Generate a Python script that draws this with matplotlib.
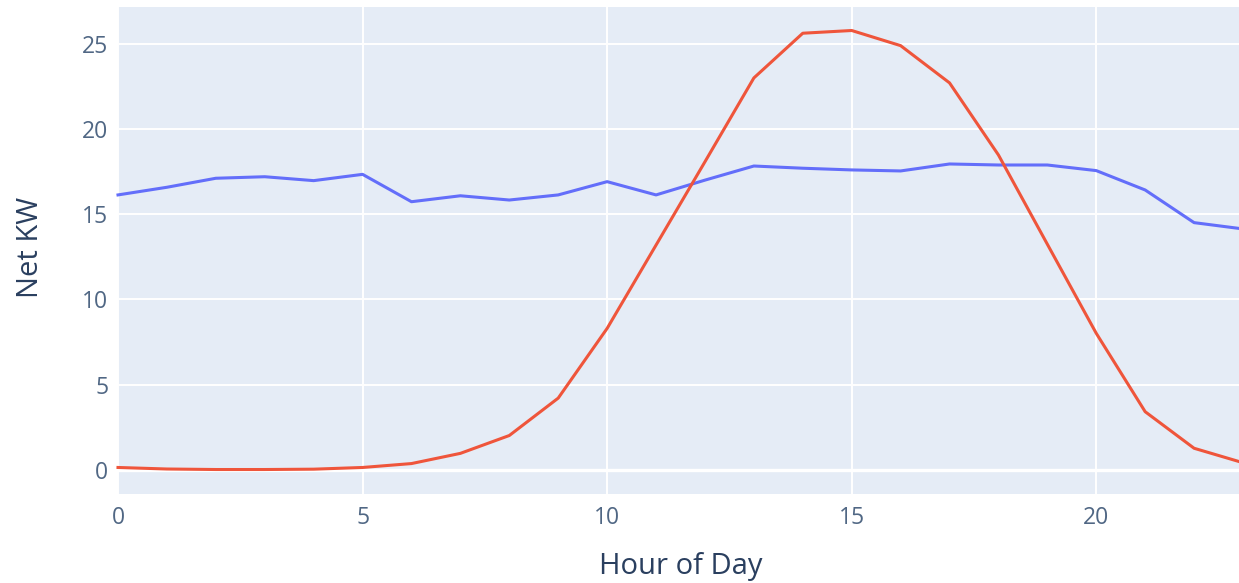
import matplotlib
matplotlib.use("Agg")
import matplotlib.pyplot as plt

hours = list(range(24))
net_load = [16.15, 16.6, 17.13, 17.22, 16.99, 17.36, 15.75, 16.1, 15.85, 16.15,
            16.93, 16.15, 17.02, 17.85, 17.72, 17.62, 17.56, 17.97, 17.91, 17.91,
            17.58, 16.44, 14.52, 14.15]
solar = [0.12, 0.03, 0.0, 0.0, 0.02, 0.12, 0.35, 0.95, 2.0, 4.2,
         8.3, 13.2, 18.1, 23.03, 25.66, 25.82, 24.93, 22.74, 18.5, 13.25,
         8.01, 3.4, 1.25, 0.4]
x_ticks = [0, 5, 10, 15, 20]
y_ticks = [0, 5, 10, 15, 20, 25]
x_title = "Hour of Day"
y_title = "Net KW"

plt.rcParams['font.family'] = ['Open Sans', 'DejaVu Sans']
W, H = 1239, 583
fig = plt.figure(figsize=(W / 100, H / 100), dpi=100)
left, right, bottom, top = 118, 1243, 494, 6.7
ax = fig.add_axes([left / W, (H - bottom) / H, (right - left) / W, (bottom - top) / H])
ax.set_facecolor('#E5ECF6')
for s in ax.spines.values():
    s.set_visible(False)

ax.set_xlim(0, 23)
ax.set_ylim(-1.44, 27.22)
ax.set_xticks(x_ticks)
ax.set_yticks(y_ticks)
ax.grid(True, color='white', linewidth=1.4)
ax.set_axisbelow(True)
ax.axhline(0, color='white', linewidth=2.4, zorder=1)

ax.plot(hours, net_load, color='#636EFA', linewidth=2.2, zorder=3, clip_on=False)
ax.plot(hours, solar, color='#EF553B', linewidth=2.2, zorder=3, clip_on=False)

ax.tick_params(axis='both', length=0, labelsize=16.5, labelcolor='#506784')
ax.tick_params(axis='x', pad=9)
ax.tick_params(axis='y', pad=7)

ax.set_xlabel(x_title, fontsize=21, color='#2a3f5f')
ax.xaxis.set_label_coords(0.5, -0.148)
ax.xaxis.label.set_va('center')
ax.set_ylabel(y_title, fontsize=21, color='#2a3f5f')
ax.yaxis.set_label_coords(-0.078, 0.507)
ax.yaxis.label.set_va('center')

fig.savefig('out.png', dpi=100, facecolor='white')
